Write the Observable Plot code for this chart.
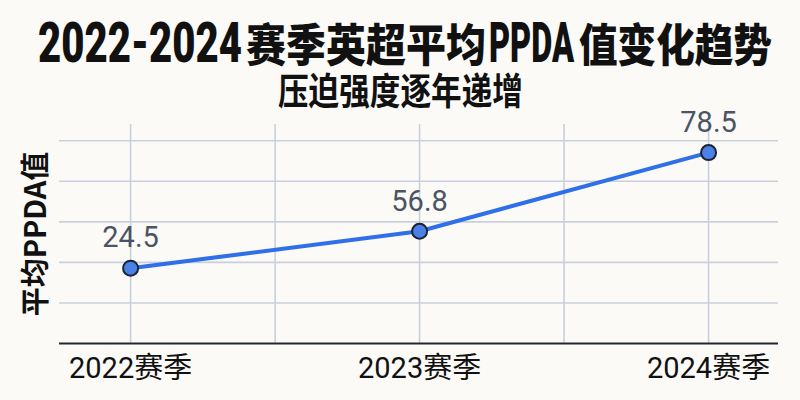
<!DOCTYPE html>
<html>
<head>
<meta charset="utf-8">
<script src="https://cdn.jsdelivr.net/npm/d3@7"></script>
<script src="https://cdn.jsdelivr.net/npm/@observablehq/plot@0.6"></script>
<style>
  html, body { margin: 0; padding: 0; background: #fbfaf7; }
  #wrap { position: relative; width: 800px; height: 400px; overflow: hidden; background: #fbfaf7; font-family: "Noto Sans CJK SC", sans-serif; }
  #titleSvg { position: absolute; left: 0; top: 0; overflow: visible; z-index: 2; }
  #ylabel { position: absolute; left: 33px; top: 234px; transform: translate(-50%, -50%) rotate(-90deg); font-size: 29px; font-weight: 700; line-height: 1; color: #111; white-space: nowrap; z-index: 3; }
  .layer { position: absolute; left: 0; top: 110px; }
</style>
</head>
<body>
<div id="wrap">
  <svg id="titleSvg" width="800" height="112"></svg>
  <div id="grid" class="layer"></div>
  <div id="chart" class="layer"></div>
  <div id="ylabel"></div>
</div>
<script>
// ---- data ----
const titleParts = ["2022-2024", "赛季英超平均", "PPDA", "值变化趋势"];
const subtitleText = "压迫强度逐年递增";
const yLabel = "平均PPDA值";
const seasons = [2022, 2023, 2024];
const ppda = [24.5, 56.8, 78.5];
const tickLabels = ["2022赛季", "2023赛季", "2024赛季"];
const xGridTicks = [2022, 2022.5, 2023, 2023.5, 2024];
const gridLevels = [1, 2, 3, 4, 5];

const data = seasons.map((s, i) => ({season: s, value: ppda[i]}));

// ---- title & subtitle (condensed lettering, fitted to width) ----
const titleStyle = [
  {start: 38, len: 204, latin: true},
  {start: 246, len: 240, latin: false},
  {start: 489, len: 85, latin: true},
  {start: 579, len: 193, latin: false}
];
const tsvg = d3.select("#titleSvg");
function fitted(text, family, size, weight, x, y, len) {
  const el = tsvg.append("text")
    .attr("x", 0).attr("y", 0)
    .attr("font-family", family)
    .attr("font-size", size)
    .attr("font-weight", weight)
    .attr("fill", "#111")
    .text(text);
  const natural = el.node().getComputedTextLength();
  el.attr("transform", `translate(${x},${y}) scale(${len / natural},1)`);
}
titleParts.forEach((t, i) => {
  const s = titleStyle[i];
  fitted(t, s.latin ? "Roboto, 'Noto Sans CJK SC', sans-serif" : "'Noto Sans CJK SC', sans-serif",
         s.latin ? 56 : 45, 900, s.start, 62, s.len);
});
fitted(subtitleText, "'Noto Sans CJK SC', sans-serif", 37, 700, 278, 104.5, 245);

document.getElementById("ylabel").textContent = yLabel;

const W = 800, H = 290;
const margins = {marginLeft: 59, marginRight: 22, marginTop: 14, marginBottom: 57};
const xDomain = [2021.754, 2024.242];

// background grid layer
const grid = Plot.plot({
  width: W, height: H, ...margins,
  style: {background: "transparent", overflow: "visible"},
  x: {domain: xDomain, axis: null},
  y: {domain: [0, 5.4], axis: null},
  marks: [
    Plot.gridY(gridLevels, {stroke: "#c9cfdc", strokeOpacity: 1, strokeWidth: 1.6}),
    Plot.gridX(xGridTicks, {stroke: "#c9cfdc", strokeOpacity: 1, strokeWidth: 1.6}),
    Plot.ruleY([0], {stroke: "#23272f", strokeWidth: 2})
  ]
});
document.getElementById("grid").append(grid);

// data layer
const chart = Plot.plot({
  width: W, height: H, ...margins,
  style: {background: "transparent", overflow: "visible", fontFamily: "Roboto, 'Noto Sans CJK SC', sans-serif"},
  x: {domain: xDomain, axis: null},
  y: {type: "pow", exponent: 3.4, domain: [-68.2, 83.6], axis: null},
  marks: [
    Plot.axisX(seasons, {
      tickSize: 0, tickPadding: 14, fontSize: 29, fill: "#111",
      fontFamily: "Roboto, 'Noto Sans CJK SC', sans-serif", fontWeight: 400,
      tickFormat: (d, i) => tickLabels[i], label: null
    }),
    Plot.line(data, {x: "season", y: "value", stroke: "#2f6fe8", strokeWidth: 4}),
    Plot.dot(data, {x: "season", y: "value", r: 7.5, fill: "#4a80e8", stroke: "#1b2333", strokeWidth: 2}),
    Plot.text(data, {x: "season", y: "value", text: d => d.value.toFixed(1), dy: -30, fontSize: 29, fill: "#4b5366", fontFamily: "Roboto, sans-serif", style: "letter-spacing:-0.8px"})
  ]
});
document.getElementById("chart").append(chart);
</script>
</body>
</html>
